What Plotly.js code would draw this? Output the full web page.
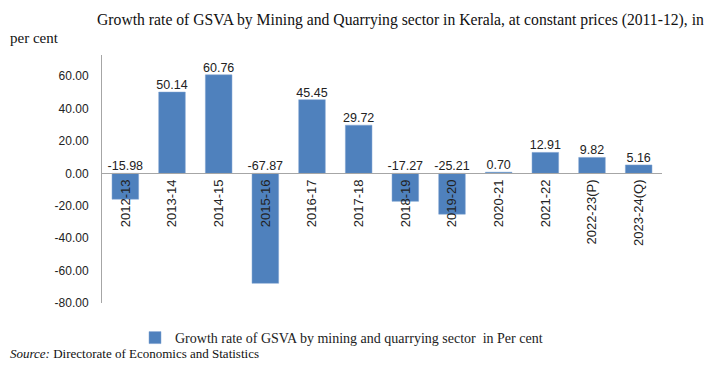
<!DOCTYPE html>
<html><head><meta charset="utf-8">
<script src="https://cdn.plot.ly/plotly-3.0.1.min.js"></script>
<style>body{margin:0;background:#fff}#c{width:716px;height:367px}</style>
</head><body><div id="c"></div>
<script>
const categories = ["2012-13","2013-14","2014-15","2015-16","2016-17","2017-18","2018-19","2019-20","2020-21","2021-22","2022-23(P)","2023-24(Q)"];
const growth = [-15.98, 50.14, 60.76, -67.87, 45.45, 29.72, -17.27, -25.21, 0.70, 12.91, 9.82, 5.16];
const yTicks = [-80, -60, -40, -20, 0, 20, 40, 60];
const seriesName = "Growth rate of GSVA by mining and quarrying sector  in Per cent";

const yMin = -80, yMax = 73;
const zeroPos = (0 - yMin) / (yMax - yMin);

const bars = {
  type: 'bar', x: categories, y: growth, name: seriesName,
  marker: {color: '#4f81bd', line: {color: '#7fa3d1', width: 0.5}},
  width: 0.57, hoverinfo: 'x+y'
};
const labels = {
  type: 'scatter', mode: 'text', x: categories,
  y: growth.map(v => Math.max(v, 0)),
  text: growth.map(v => v.toFixed(2)),
  textposition: 'top center',
  textfont: {family: 'Liberation Sans, Arial', size: 12.5, color: '#222'},
  showlegend: false, hoverinfo: 'skip', cliponaxis: false
};

const layout = {
  width: 716, height: 367,
  margin: {l: 102, r: 54, t: 55, b: 64, autoexpand: false},
  paper_bgcolor: '#fff', plot_bgcolor: '#fff',
  showlegend: true,
  legend: {orientation: 'h', xref: 'container', yref: 'container', x: 135/716, xanchor: 'left',
    y: 1 - 322/367, yanchor: 'top',
    font: {family: 'Liberation Serif, serif', size: 14, color: '#222'},
    itemwidth: 30, tracegroupgap: 0},
  xaxis: {
    type: 'category', anchor: 'free', position: zeroPos,
    tickangle: -90, showline: true, linecolor: '#a6a6a6', linewidth: 1,
    ticks: '', showgrid: false, zeroline: false,
    tickfont: {family: 'Liberation Sans, Arial', size: 13, color: '#222'},
    range: [-0.5, categories.length - 0.5], fixedrange: true
  },
  yaxis: {
    range: [yMin, yMax], tickvals: yTicks, ticktext: yTicks.map(v => v.toFixed(2)),
    showline: true, linecolor: '#a6a6a6', linewidth: 1, ticks: '',
    showgrid: false, zeroline: false, ticklabelstandoff: 10,
    tickfont: {family: 'Liberation Sans, Arial', size: 12, color: '#222'}
  },
  annotations: [
    {xref: 'paper', yref: 'paper', x: -0.0125, xanchor: 'left', y: (303 - 20) / 248, yanchor: 'middle',
     text: 'Growth rate of GSVA by Mining and Quarrying sector in Kerala, at constant prices (2011-12), in',
     showarrow: false, font: {family: 'Liberation Serif, serif', size: 15.7, color: '#111'}},
    {xref: 'paper', yref: 'paper', x: -0.168, xanchor: 'left', y: (303 - 38) / 248, yanchor: 'middle',
     text: 'per cent', showarrow: false, font: {family: 'Liberation Serif, serif', size: 15, color: '#111'}},
    {xref: 'paper', yref: 'paper', x: -0.168, xanchor: 'left', y: -0.2056, yanchor: 'middle',
     text: '<i>Source:</i> Directorate of Economics and Statistics', showarrow: false,
     font: {family: 'Liberation Serif, serif', size: 13, color: '#111'}}
  ]
};
Plotly.newPlot('c', [bars, labels], layout, {displayModeBar: false, staticPlot: true});
</script></body></html>
